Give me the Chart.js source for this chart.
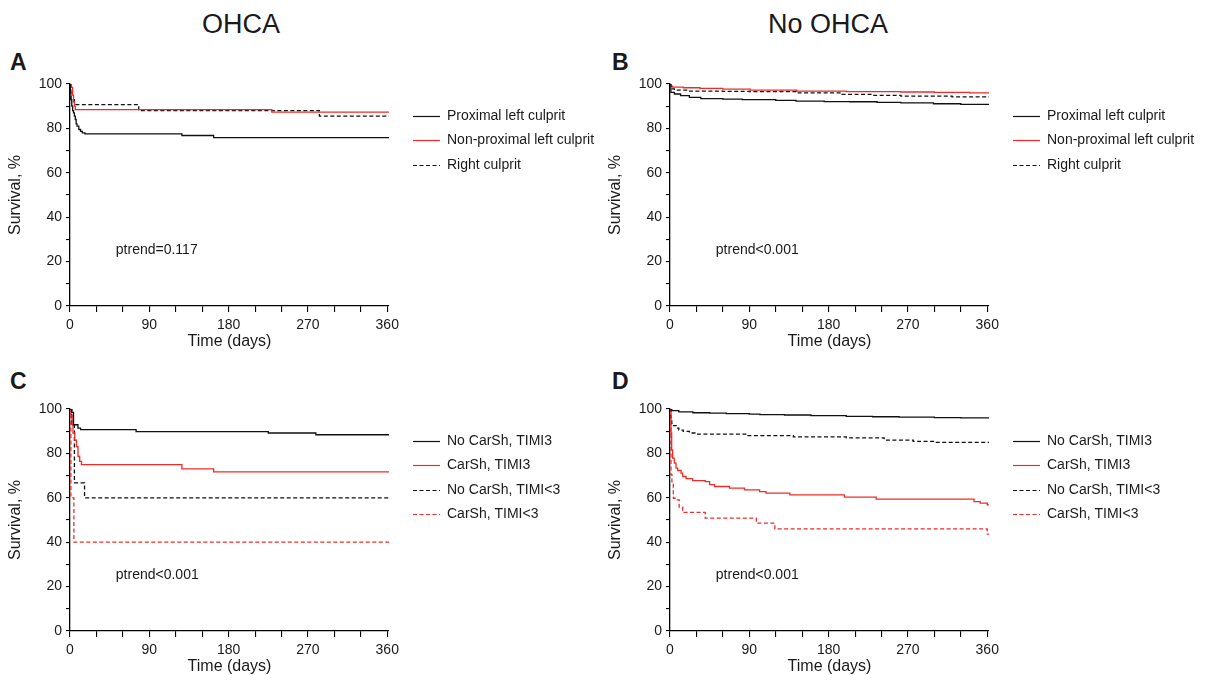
<!DOCTYPE html>
<html>
<head>
<meta charset="utf-8">
<title>Survival by culprit and reperfusion</title>
<script src="https://cdn.jsdelivr.net/npm/chart.js@4.4.1/dist/chart.umd.min.js"></script>
<style>
  body { margin: 0; background: #fff; overflow: hidden; }
  #fig { position: relative; width: 1210px; height: 675px; overflow: hidden; font-family: "Liberation Sans", Arial, sans-serif; color: #1a1a1a; }
  .col { position: absolute; top: 8px; width: 300px; text-align: center; font-size: 27px; line-height: 32px; }
  .tag { position: absolute; font-size: 23px; font-weight: bold; line-height: 24px; }
  canvas { position: absolute; }
</style>
</head>
<body>
<div id="fig">
  <div class="col" style="left:91px">OHCA</div>
  <div class="col" style="left:678px">No OHCA</div>
  <div class="tag" style="left:10px;top:50px">A</div>
  <div class="tag" style="left:612px;top:50px">B</div>
  <div class="tag" style="left:10px;top:369px">C</div>
  <div class="tag" style="left:612px;top:369px">D</div>
  <canvas id="panelA" width="605" height="310" style="left:0;top:44px"></canvas>
  <canvas id="panelB" width="605" height="310" style="left:600px;top:44px"></canvas>
  <canvas id="panelC" width="605" height="310" style="left:0;top:369px"></canvas>
  <canvas id="panelD" width="605" height="310" style="left:600px;top:369px"></canvas>
</div>
<script>
// ============= TICKS =============
const xTickLabels = [0, 90, 180, 270, 360];
const yTickLabels = [0, 20, 40, 60, 80, 100];

// ============= PAINEL A - OHCA, culprit =============
const aProximalDays = [0, 0.5, 1, 2, 3, 4, 5, 6, 7, 8, 10, 12, 14, 17, 127, 163, 362];
const aProximalSurv = [100, 96, 93, 90, 88, 87, 85.5, 84, 82, 81, 79.5, 78.7, 78, 77.5, 76.8, 75.8, 75.8];
const aNonProxDays  = [0, 1.5, 3, 4, 5, 6, 229, 362];
const aNonProxSurv  = [100, 98.5, 95, 92, 90, 88.5, 87.3, 87.3];
const aRightDays    = [0, 1, 5, 78, 283, 362];
const aRightSurv    = [100, 93, 90.7, 88.0, 85.5, 85.5];

// ============= PAINEL B - No OHCA, culprit =============
const bProximalDays = [0, 1, 5, 12, 22, 35, 60, 82, 120, 143, 175, 204, 235, 262, 299, 330, 362];
const bProximalSurv = [100, 96.2, 95.5, 94.8, 94.0, 93.4, 93.2, 93.0, 92.6, 92.3, 92.1, 92.0, 91.7, 91.5, 91.1, 90.8, 90.5];
const bNonProxDays  = [0, 1, 3, 15, 34, 60, 91, 144, 200, 262, 300, 340, 362];
const bNonProxSurv  = [100, 99.0, 98.6, 98.3, 98.0, 97.7, 97.2, 96.8, 96.6, 96.4, 96.2, 96.0, 96.0];
const bRightDays    = [0, 1, 5, 20, 60, 90, 143, 193, 230, 262, 320, 362];
const bRightSurv    = [100, 97.8, 97.2, 96.8, 96.7, 96.6, 96.0, 95.3, 94.9, 94.5, 94.2, 94.0];

// ============= PAINEL C - OHCA, CarSh / TIMI =============
const cNoShock3Days = [0, 2, 4, 9, 12, 75, 225, 279, 362];
const cNoShock3Surv = [100, 98.5, 92.9, 91.4, 90.7, 89.8, 89.2, 88.4, 88.4];
const cShock3Days   = [0, 1, 2.3, 3.4, 5.4, 7.3, 9.1, 11, 13, 127, 163, 362];
const cShock3Surv   = [100, 97, 93, 89.2, 86, 83.1, 78.6, 76.4, 74.9, 73.0, 71.7, 71.7];
const cNoShockLDays = [0, 2, 5, 16.5, 362];
const cNoShockLSurv = [100, 93.3, 66.7, 60, 60];
const cShockLDays   = [0, 1, 4.4, 362];
const cShockLSurv   = [100, 60, 40, 40];

// ============= PAINEL D - No OHCA, CarSh / TIMI =============
const dNoShock3Days = [0, 2, 10, 26, 45, 64, 90, 102, 130, 160, 200, 230, 260, 300, 330, 362];
const dNoShock3Surv = [100, 99.3, 98.7, 98.3, 98.1, 97.9, 97.7, 97.5, 97.3, 97.0, 96.7, 96.5, 96.3, 96.1, 96.0, 95.9];
const dShock3Days   = [0, 1.1, 1.9, 3, 4.9, 6.8, 8.7, 12.5, 14.4, 18.2, 25.7, 40, 45, 50.5, 67.5, 84.6, 101.7, 109, 136, 198, 234, 345, 352, 360, 362];
const dShock3Surv   = [100, 89.2, 81.6, 77.9, 75.6, 73.4, 72.3, 71.1, 69.6, 68.6, 67.7, 67.3, 65.9, 65.1, 64.4, 63.6, 62.8, 62.1, 61.3, 60.3, 59.4, 58.3, 57.6, 56.8, 56.8];
const dNoShockLDays = [0, 0.8, 2, 4, 7, 10, 15, 22, 30, 87, 140, 200, 243, 276, 300, 362];
const dNoShockLSurv = [100, 95.2, 93.5, 92.5, 91.4, 90.5, 89.9, 89.2, 88.7, 88.0, 87.4, 87.0, 86.0, 85.4, 85.0, 85.0];
const dShockLDays   = [0, 1.1, 2.2, 3.8, 7, 10.4, 14.4, 40, 98, 119, 360, 362];
const dShockLSurv   = [100, 70.4, 66.6, 59.8, 59.1, 55.8, 53.4, 50.8, 48.6, 46.0, 43.6, 43.6];

const pTrendNotes = ['ptrend=0.117', 'ptrend<0.001', 'ptrend<0.001', 'ptrend<0.001'];

// ============= CORES =============
const PRETO = '#111111';
const VERMELHO = '#ee2b2b';
const TRACO = [4, 2.5];
const TEXTO = '#1a1a1a';
const FONTE = '"Liberation Sans", Arial, sans-serif';

Chart.defaults.font.family = FONTE;
Chart.defaults.color = TEXTO;

function serie(label, days, surv, color, dashed) {
    return {
        label: label,
        data: days.map((d, i) => ({ x: d, y: surv[i] })),
        borderColor: color,
        borderWidth: 1.3,
        borderDash: dashed ? TRACO : [],
        stepped: true,
        pointRadius: 0,
        fill: false
    };
}

// legenda + ptrend desenhados ao lado do gráfico
const kmExtras = {
    id: 'kmExtras',
    afterDraw(chart, args, opts) {
        const { ctx, chartArea, scales } = chart;
        ctx.save();
        ctx.font = '14px ' + FONTE;
        ctx.fillStyle = TEXTO;
        ctx.textBaseline = 'middle';
        ctx.textAlign = 'left';
        ctx.fillText(opts.note, scales.x.getPixelForValue(52), scales.y.getPixelForValue(25));

        chart.data.datasets.forEach((ds, i) => {
            const y = Math.round(chartArea.top + 32 + i * 24.3) + 0.5;
            const x0 = chartArea.right + 24;
            ctx.beginPath();
            ctx.setLineDash(ds.borderDash);
            ctx.strokeStyle = ds.borderColor;
            ctx.lineWidth = 1.2;
            ctx.moveTo(x0, y);
            ctx.lineTo(x0 + 27, y);
            ctx.stroke();
            ctx.setLineDash([]);
            ctx.fillStyle = TEXTO;
            ctx.fillText(ds.label, x0 + 34, y);
        });
        ctx.restore();
    }
};

function painel(id, datasets, note) {
    new Chart(document.getElementById(id), {
        type: 'line',
        data: { datasets: datasets },
        plugins: [kmExtras],
        options: {
            responsive: false,
            animation: false,
            layout: { padding: { top: 40, right: 216, left: 0, bottom: 0 } },
            plugins: {
                legend: { display: false },
                tooltip: { enabled: false },
                kmExtras: { note: note }
            },
            scales: {
                x: {
                    type: 'linear',
                    min: 0,
                    max: 362,
                    border: { color: '#000', width: 1.3 },
                    grid: { drawOnChartArea: false, tickLength: 6, color: '#000', lineWidth: 1.1 },
                    ticks: {
                        stepSize: 30,
                        includeBounds: false,
                        autoSkip: false,
                        maxRotation: 0,
                        padding: 5,
                        color: TEXTO,
                        font: { size: 14 },
                        callback: (v) => xTickLabels.includes(v) ? v : ''
                    },
                    title: { display: true, text: 'Time (days)', color: TEXTO, font: { size: 16 }, padding: { top: 0, bottom: 3 } },
                    afterFit: (s) => { s.height = 48; }
                },
                y: {
                    min: 0,
                    max: 100,
                    border: { color: '#000', width: 1.3 },
                    grid: { drawOnChartArea: false, tickLength: 4, color: '#000', lineWidth: 1.1 },
                    ticks: {
                        stepSize: 10,
                        autoSkip: false,
                        padding: 4,
                        color: TEXTO,
                        font: { size: 14 },
                        callback: (v) => yTickLabels.includes(v) ? v : ''
                    },
                    title: { display: true, text: 'Survival, %', color: TEXTO, font: { size: 16 }, padding: { top: 6, bottom: 0 } },
                    afterFit: (s) => { s.width = 70; }
                }
            }
        }
    });
}

painel('panelA', [
    serie('Proximal left culprit', aProximalDays, aProximalSurv, PRETO, false),
    serie('Non-proximal left culprit', aNonProxDays, aNonProxSurv, VERMELHO, false),
    serie('Right culprit', aRightDays, aRightSurv, PRETO, true)
], pTrendNotes[0]);

painel('panelB', [
    serie('Proximal left culprit', bProximalDays, bProximalSurv, PRETO, false),
    serie('Non-proximal left culprit', bNonProxDays, bNonProxSurv, VERMELHO, false),
    serie('Right culprit', bRightDays, bRightSurv, PRETO, true)
], pTrendNotes[1]);

painel('panelC', [
    serie('No CarSh, TIMI3', cNoShock3Days, cNoShock3Surv, PRETO, false),
    serie('CarSh, TIMI3', cShock3Days, cShock3Surv, VERMELHO, false),
    serie('No CarSh, TIMI<3', cNoShockLDays, cNoShockLSurv, PRETO, true),
    serie('CarSh, TIMI<3', cShockLDays, cShockLSurv, VERMELHO, true)
], pTrendNotes[2]);

painel('panelD', [
    serie('No CarSh, TIMI3', dNoShock3Days, dNoShock3Surv, PRETO, false),
    serie('CarSh, TIMI3', dShock3Days, dShock3Surv, VERMELHO, false),
    serie('No CarSh, TIMI<3', dNoShockLDays, dNoShockLSurv, PRETO, true),
    serie('CarSh, TIMI<3', dShockLDays, dShockLSurv, VERMELHO, true)
], pTrendNotes[3]);
</script>
</body>
</html>
